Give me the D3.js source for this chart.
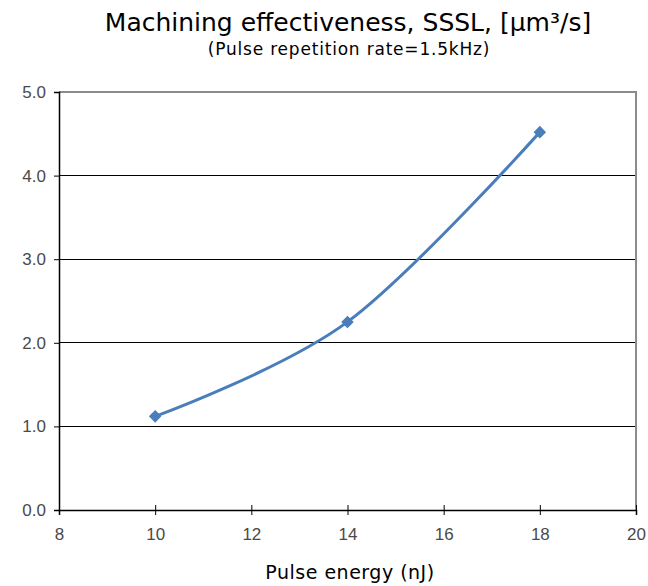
<!DOCTYPE html>
<html>
<head>
<meta charset="utf-8">
<script src="https://cdn.jsdelivr.net/npm/d3@7"></script>
<style>
body { margin: 0; background: #fff; }
</style>
</head>
<body>
<svg id="chart" width="648" height="586"></svg>
<script>
const energy = [10, 14, 18];
const effectiveness = [1.12, 2.25, 4.52];
const xTicks = [8, 10, 12, 14, 16, 18, 20];
const yTicks = [0, 1, 2, 3, 4, 5];

const LEFT = 59, RIGHT = 636, TOP = 92, BOTTOM = 510;

const svg = d3.select('#chart');

const xScale = d3.scaleLinear().domain([8, 20]).range([LEFT, RIGHT]);
const yScale = d3.scaleLinear().domain([0, 5]).range([BOTTOM, TOP]);

// grid lines
svg.append('g')
    .selectAll('line')
    .data(yTicks.filter(d => d > 0 && d < 5))
    .join('line')
    .attr('x1', LEFT).attr('x2', RIGHT)
    .attr('y1', d => yScale(d)).attr('y2', d => yScale(d))
    .attr('stroke', '#000').attr('stroke-width', 1)
    .attr('shape-rendering', 'crispEdges');

// top & right border
svg.append('path')
    .attr('d', `M${LEFT},${yScale(5)}H${RIGHT}V${BOTTOM}`)
    .attr('fill', 'none').attr('stroke', '#8c8c8c').attr('stroke-width', 2)
    .attr('shape-rendering', 'crispEdges');

// y axis
const yAxis = svg.append('g')
    .attr('transform', `translate(${LEFT},0)`)
    .call(d3.axisLeft(yScale).tickValues(yTicks).tickFormat(d3.format('.1f')).tickSize(5).tickPadding(8));
yAxis.select('.domain').attr('stroke', '#000').attr('stroke-width', 1.5);
yAxis.selectAll('text')
    .style('font-size', '17px').style('font-family', 'Liberation Sans, sans-serif').style('fill', '#4a4a4a');

// x axis
const xAxis = svg.append('g')
    .attr('transform', `translate(0,${BOTTOM})`)
    .call(d3.axisBottom(xScale).tickValues(xTicks).tickSize(5).tickPadding(13));
xAxis.select('.domain').attr('stroke', '#000').attr('stroke-width', 1.5);
xAxis.selectAll('.tick line').attr('y1', -5);
xAxis.selectAll('text')
    .style('font-size', '17px').style('font-family', 'Liberation Sans, sans-serif').style('fill', '#4a4a4a');

// data line (Excel-style smoothing)
const pts = energy.map((e, i) => ({ x: e, y: effectiveness[i] }));
const line = d3.line()
    .x(d => xScale(d.x))
    .y(d => yScale(d.y))
    .curve(d3.curveCardinal.tension(0));

svg.append('path')
    .datum(pts)
    .attr('d', line)
    .attr('fill', 'none')
    .attr('stroke', '#4a7ebb')
    .attr('stroke-width', 3);

svg.append('g')
    .selectAll('path')
    .data(pts)
    .join('path')
    .attr('d', d3.symbol(d3.symbolDiamond2, 100))
    .attr('transform', d => `translate(${xScale(d.x)},${yScale(d.y)})`)
    .attr('fill', '#4a7ebb');

// titles
svg.append('text')
    .attr('x', 348).attr('y', 31)
    .attr('text-anchor', 'middle')
    .style('font-family', 'DejaVu Sans, sans-serif')
    .style('font-size', '25px')
    .text('Machining effectiveness, SSSL, [μm³/s]');

svg.append('text')
    .attr('x', 349).attr('y', 55)
    .attr('text-anchor', 'middle')
    .style('font-family', 'DejaVu Sans, sans-serif')
    .style('font-size', '17px')
    .style('letter-spacing', '0.8px')
    .text('(Pulse repetition rate=1.5kHz)');

svg.append('text')
    .attr('x', 350).attr('y', 579)
    .attr('text-anchor', 'middle')
    .style('font-family', 'DejaVu Sans, sans-serif')
    .style('font-size', '19px')
    .style('letter-spacing', '0.5px')
    .text('Pulse energy (nJ)');
</script>
</body>
</html>
